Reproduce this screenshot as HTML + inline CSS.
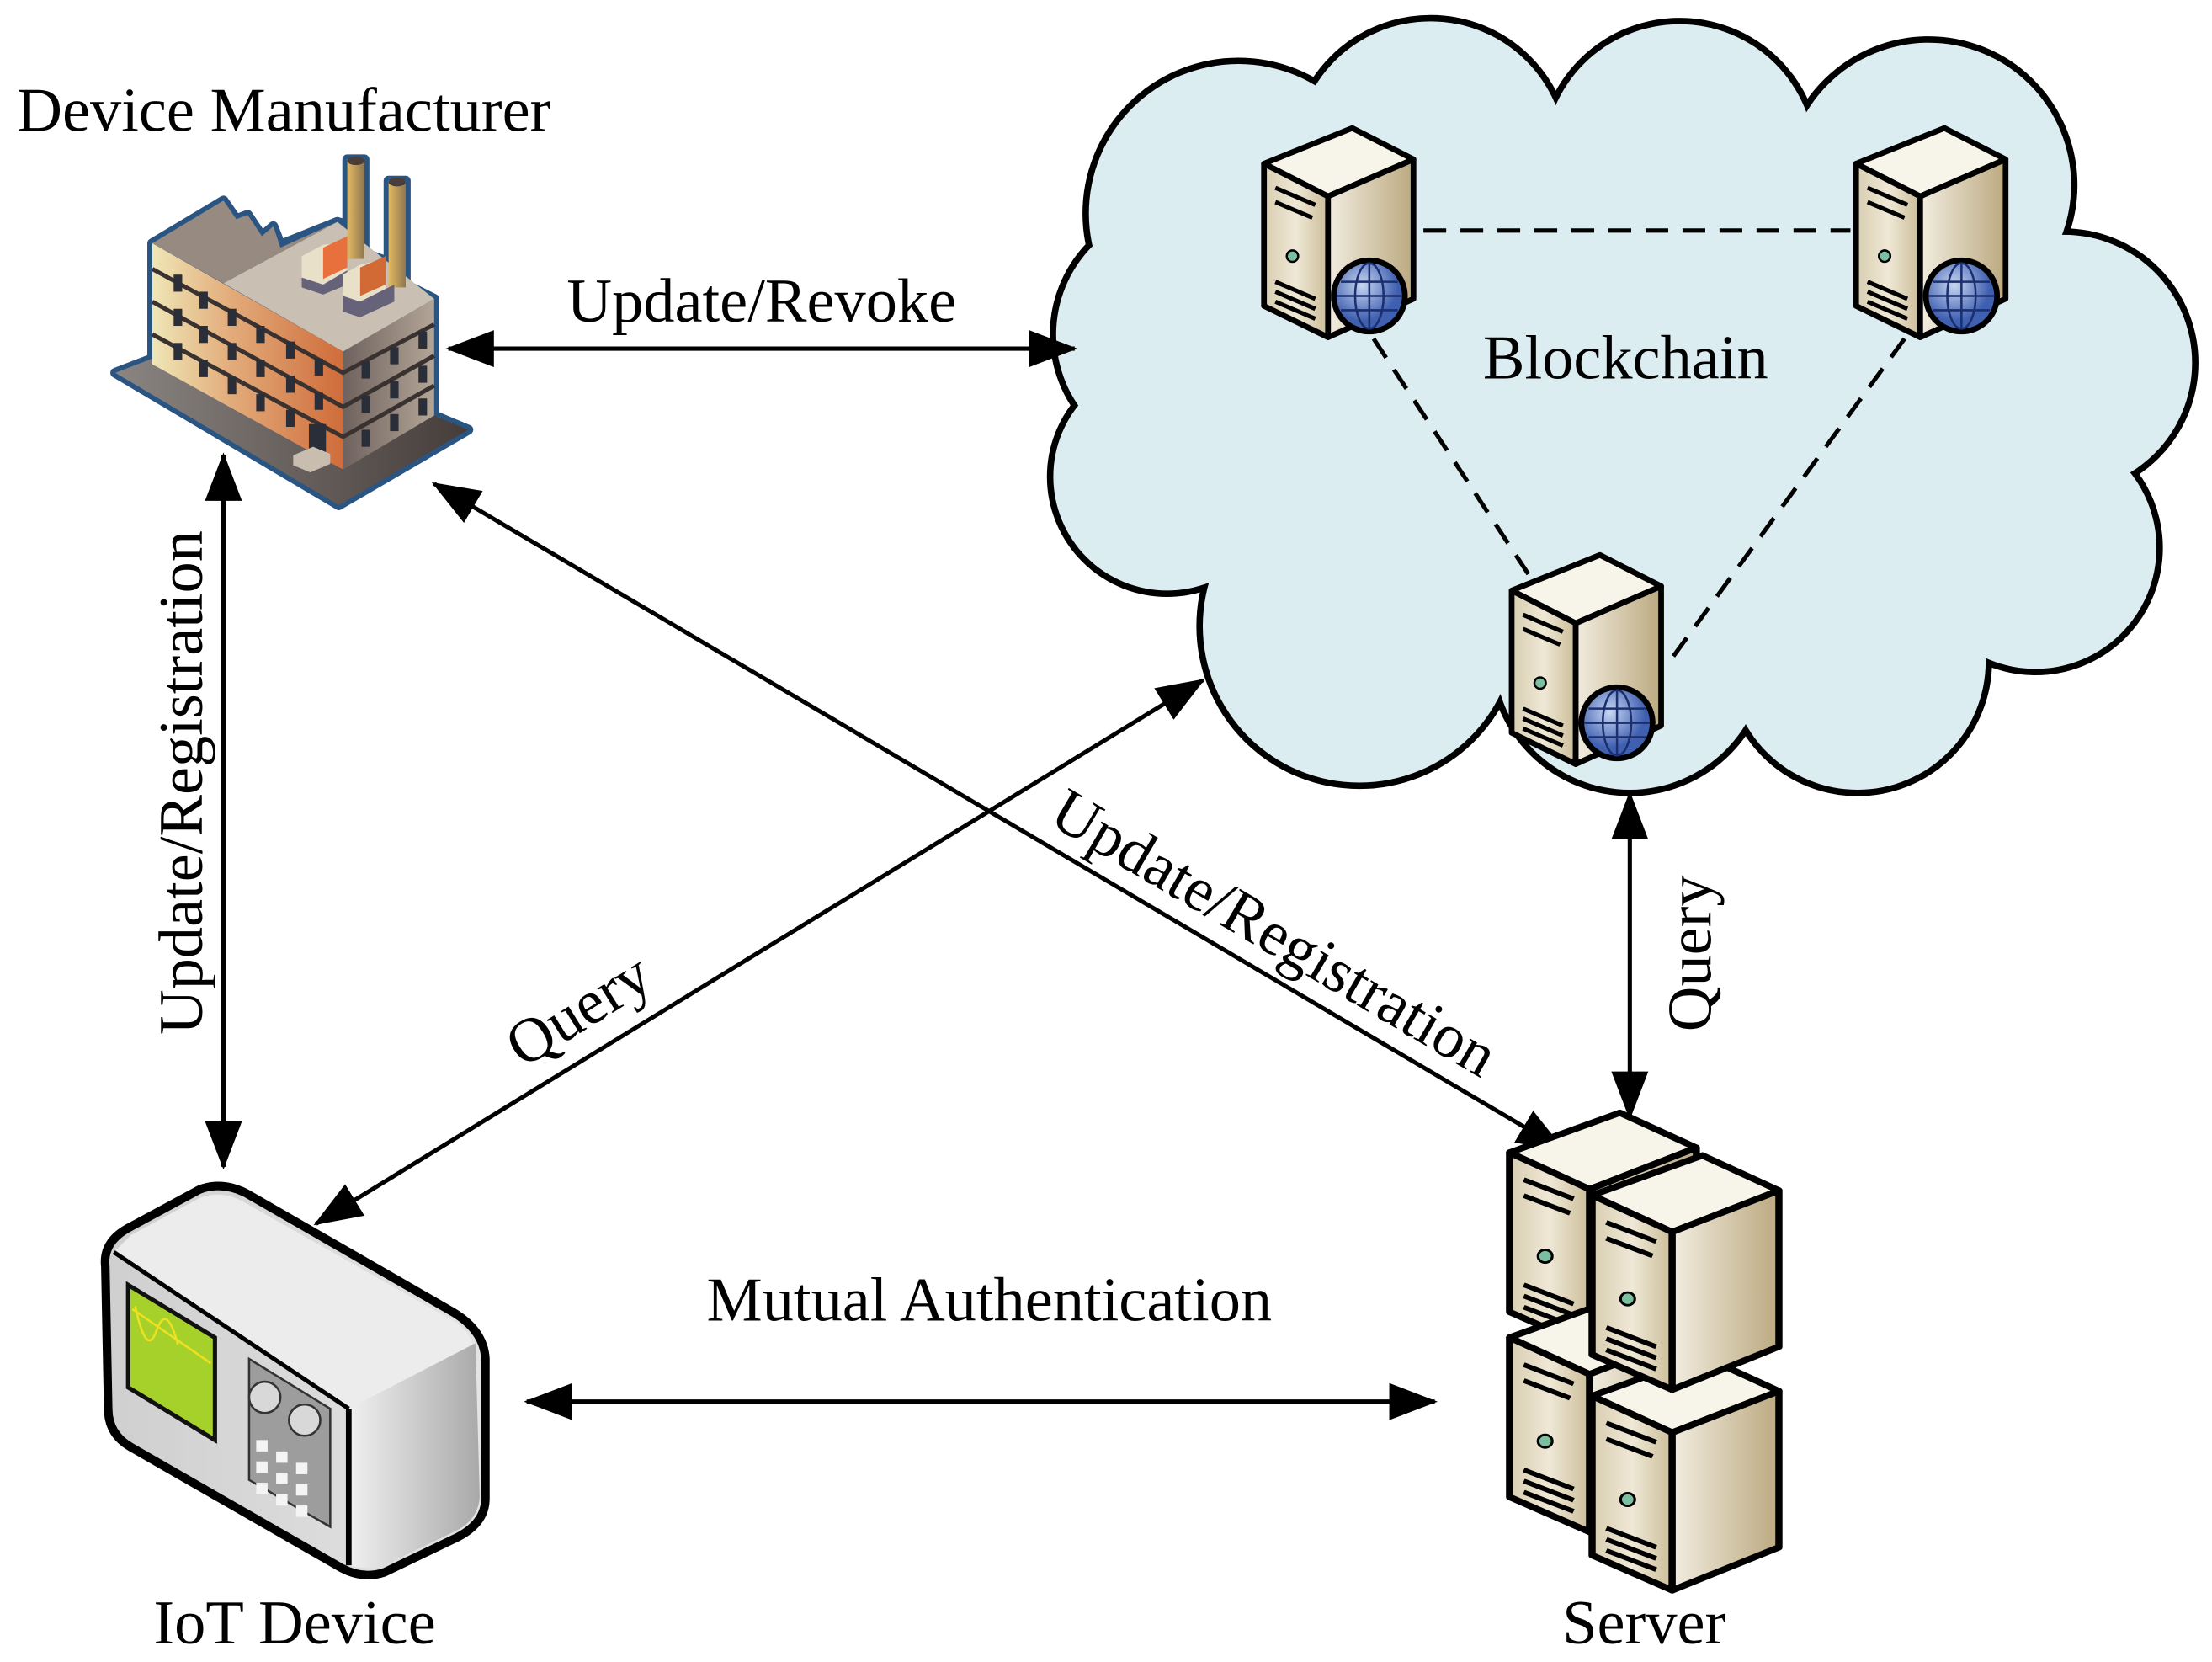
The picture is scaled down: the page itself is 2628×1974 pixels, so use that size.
<!DOCTYPE html>
<html><head><meta charset="utf-8"><style>html,body{margin:0;padding:0;background:#fff}svg{display:block}</style></head>
<body>
<svg width="2628" height="1974" viewBox="0 0 1554 1168" preserveAspectRatio="none" xmlns="http://www.w3.org/2000/svg" font-family="Liberation Serif, serif">
<defs>
<marker id="ah" markerUnits="userSpaceOnUse" markerWidth="34" markerHeight="26" refX="32" refY="13" orient="auto-start-reverse"><path d="M0,0 L34,13 L0,26 Z" fill="#000"/></marker>
<linearGradient id="sf" x1="0" x2="1"><stop offset="0" stop-color="#d8cdb0"/><stop offset="0.5" stop-color="#efe8d6"/><stop offset="1" stop-color="#cbbd98"/></linearGradient>
<linearGradient id="ss" x1="0" x2="1"><stop offset="0" stop-color="#f2ede0"/><stop offset="1" stop-color="#bba97f"/></linearGradient>
<radialGradient id="gl" cx="0.4" cy="0.35"><stop offset="0" stop-color="#c7d6f2"/><stop offset="1" stop-color="#3f5fb0"/></radialGradient>
<linearGradient id="fl" x1="0" x2="1"><stop offset="0" stop-color="#efe6b6"/><stop offset="0.4" stop-color="#e3ad7c"/><stop offset="1" stop-color="#cf6c3a"/></linearGradient>
<linearGradient id="fr" x1="0" x2="1"><stop offset="0" stop-color="#6f625e"/><stop offset="1" stop-color="#b3a596"/></linearGradient>
<linearGradient id="ch" x1="0" x2="1"><stop offset="0" stop-color="#e2b962"/><stop offset="1" stop-color="#8f7650"/></linearGradient>
<linearGradient id="base" x1="0" x2="1"><stop offset="0" stop-color="#8a8582"/><stop offset="1" stop-color="#463d3a"/></linearGradient>
<linearGradient id="ir" x1="0" x2="1"><stop offset="0" stop-color="#f0f0f0"/><stop offset="1" stop-color="#a9a9a9"/></linearGradient>
<linearGradient id="if" x1="0" x2="1"><stop offset="0" stop-color="#cfcfcf"/><stop offset="1" stop-color="#e4e4e4"/></linearGradient>
<g id="srv">
<path d="M2,25 L64,0 L107,22 L47,48 Z" fill="#f7f4ea" stroke="#000" stroke-width="4" stroke-linejoin="round"/>
<path d="M2,25 L47,48 L47,147 L2,125 Z" fill="url(#sf)" stroke="#000" stroke-width="4" stroke-linejoin="round"/>
<path d="M47,48 L107,22 L107,120 L47,147 Z" fill="url(#ss)" stroke="#000" stroke-width="4" stroke-linejoin="round"/>
<path d="M10,42 L38,54 M10,52 L36,63 M10,108 L38,120 M10,115 L38,127 M10,122 L38,134" stroke="#000" stroke-width="3"/>
<circle cx="22" cy="90" r="4" fill="#7ac0a0" stroke="#000" stroke-width="1.5"/>
</g>
<g id="glb"><circle r="25" fill="url(#gl)" stroke="#000" stroke-width="4"/><ellipse rx="10" ry="23" fill="none" stroke="#1c2f6e" stroke-width="1.5"/><path d="M-23,0 H23 M-20,-10 H20 M-20,10 H20 M0,-23 V23" stroke="#1c2f6e" stroke-width="1.5"/></g>
</defs>

<!-- cloud -->
<g stroke="#000" stroke-width="9" fill="#dcedf2">
<circle cx="870" cy="150" r="105"/><circle cx="1005" cy="110" r="95"/><circle cx="1180" cy="112" r="95"/><circle cx="1355" cy="130" r="100"/><circle cx="1450" cy="255" r="90"/><circle cx="1430" cy="385" r="85"/><circle cx="1305" cy="465" r="90"/><circle cx="1145" cy="460" r="95"/><circle cx="955" cy="440" r="110"/><circle cx="820" cy="335" r="80"/><circle cx="830" cy="235" r="88"/>
</g>
<g fill="#dcedf2">
<circle cx="870" cy="150" r="105"/><circle cx="1005" cy="110" r="95"/><circle cx="1180" cy="112" r="95"/><circle cx="1355" cy="130" r="100"/><circle cx="1450" cy="255" r="90"/><circle cx="1430" cy="385" r="85"/><circle cx="1305" cy="465" r="90"/><circle cx="1145" cy="460" r="95"/><circle cx="955" cy="440" r="110"/><circle cx="820" cy="335" r="80"/><circle cx="830" cy="235" r="88"/>
<ellipse cx="1140" cy="290" rx="330" ry="200"/>
</g>

<g stroke="#000" stroke-width="3" stroke-dasharray="16,10" fill="none">
<line x1="1000" y1="162" x2="1300" y2="162"/><line x1="965" y1="238" x2="1078" y2="410"/><line x1="1338" y1="238" x2="1175" y2="462"/>
</g>
<use href="#srv" x="886" y="90"/><use href="#glb" x="962" y="208"/>
<use href="#srv" x="1302" y="90"/><use href="#glb" x="1378" y="208"/>
<use href="#srv" x="1060" y="390"/><use href="#glb" x="1136" y="508"/>
<text x="1142" y="266" font-size="44" text-anchor="middle">Blockchain</text>

<g stroke="#000" stroke-width="3" fill="none" marker-start="url(#ah)" marker-end="url(#ah)">
<line x1="315" y1="245" x2="755" y2="245"/>
<line x1="157" y1="320" x2="157" y2="820"/>
<line x1="305" y1="340" x2="1098" y2="808"/>
<line x1="845" y1="478" x2="222" y2="860"/>
<line x1="1145" y1="558" x2="1145" y2="785"/>
<line x1="370" y1="985" x2="1008" y2="985"/>
</g>

<!-- factory -->
<path d="M81,262 L107,252 L107,171 L157,141 L166,154 L174,151 L184,166 L192,159 L197,172 L237,156 L244,158 L244,112 L256,112 L256,178 L273,184 L273,127 L285,127 L285,200 L305,210 L305,292 L329,302 L238,355 Z" fill="#2a5582" stroke="#2a5582" stroke-width="7" stroke-linejoin="round"/>
<path d="M81,262 L107,252 L241,330 L305,292 L329,302 L238,355 Z" fill="url(#base)"/>
<path d="M107,171 L157,141 L166,154 L174,151 L184,166 L192,159 L197,174 L237,156 L157,199 Z" fill="#978a80"/>
<path d="M107,171 L241,247 L241,330 L107,256 Z" fill="url(#fl)"/>
<path d="M241,247 L305,210 L305,292 L241,330 Z" fill="url(#fr)"/>
<path d="M157,199 L237,156 L305,210 L241,247 Z" fill="#c9bfb3"/>
<rect x="244" y="112" width="12" height="70" fill="url(#ch)"/><ellipse cx="250" cy="113" rx="6" ry="3" fill="#4a3e3a"/>
<rect x="273" y="127" width="12" height="75" fill="url(#ch)"/><ellipse cx="279" cy="128" rx="6" ry="3" fill="#4a3e3a"/>
<path d="M212,180 L227,172 L244,170 L244,190 L227,200 L212,195 Z" fill="#e8e0c8"/>
<path d="M227,174 L244,166 L244,188 L227,196 Z" fill="#e8703c"/>
<path d="M212,195 L227,200 L244,190 L244,200 L227,207 L212,202 Z" fill="#66627a"/>
<path d="M241,193 L253,186 L271,182 L271,203 L253,212 L241,208 Z" fill="#e8e0c8"/>
<path d="M253,188 L271,180 L271,200 L253,208 Z" fill="#d26a36"/>
<path d="M241,208 L253,212 L277,200 L277,212 L253,223 L241,219 Z" fill="#66627a"/>
<g stroke="#3a3230" stroke-width="3" fill="none"><path d="M107,189 L241,262 L305,228 M107,212 L241,286 L305,250 M107,235 L241,307 L305,271"/></g>
<g fill="#2a2e38">
<rect x="122" y="193" width="6" height="12"/><rect x="140" y="205" width="6" height="12"/><rect x="160" y="217" width="6" height="12"/><rect x="180" y="229" width="6" height="12"/><rect x="201" y="240" width="6" height="12"/><rect x="221" y="252" width="6" height="12"/>
<rect x="122" y="217" width="6" height="12"/><rect x="140" y="229" width="6" height="12"/><rect x="160" y="241" width="6" height="12"/><rect x="180" y="253" width="6" height="12"/><rect x="201" y="264" width="6" height="12"/><rect x="221" y="276" width="6" height="12"/>
<rect x="122" y="241" width="6" height="12"/><rect x="140" y="253" width="6" height="12"/><rect x="160" y="265" width="6" height="12"/><rect x="180" y="277" width="6" height="12"/><rect x="201" y="288" width="6" height="12"/><rect x="217" y="298" width="12" height="24"/>
<rect x="254" y="254" width="6" height="12"/><rect x="274" y="244" width="6" height="12"/><rect x="294" y="233" width="6" height="12"/>
<rect x="254" y="278" width="6" height="12"/><rect x="274" y="268" width="6" height="12"/><rect x="294" y="257" width="6" height="12"/>
<rect x="254" y="302" width="6" height="12"/><rect x="274" y="291" width="6" height="12"/><rect x="294" y="280" width="6" height="12"/>
</g>
<path d="M206,320 L220,314 L232,319 L232,326 L218,332 L206,327 Z" fill="#c9bdb0"/>

<!-- IoT device -->
<g stroke="#000" stroke-width="6" stroke-linejoin="round">
<path d="M74,890 Q72,872 92,862 L140,836 Q155,830 172,838 L318,922 Q340,935 341,955 L341,1053 Q341,1070 322,1080 L270,1105 Q255,1110 240,1102 L92,1017 Q76,1008 76,990 Z" fill="url(#if)"/>
</g>
<path d="M80,880 L92,868 L140,842 Q155,836 170,844 L318,928 Q330,935 332,945 L245,990 Z" fill="#ececec"/>
<path d="M245,990 L334,944 L337,1052 Q336,1068 320,1076 L270,1100 Q258,1104 245,1100 Z" fill="url(#ir)"/>
<path d="M245,990 L245,1100" stroke="#000" stroke-width="4"/>
<path d="M80,880 L245,990" stroke="#000" stroke-width="3"/>
<path d="M90,903 L151,940 L151,1012 L90,975 Z" fill="#a5d12a" stroke="#111" stroke-width="3"/>
<path d="M95,918 Q103,955 110,935 T125,945" stroke="#f0e020" stroke-width="1.5" fill="none"/>
<path d="M93,920 L148,958" stroke="#f0e020" stroke-width="1.5"/>
<path d="M175,955 L232,990 L232,1073 L175,1040 Z" fill="#9d9d9d" stroke="#333" stroke-width="1.5"/>
<circle cx="186" cy="982" r="11" fill="#d8d8d8" stroke="#333" stroke-width="1.5"/><circle cx="214" cy="998" r="11" fill="#d8d8d8" stroke="#333" stroke-width="1.5"/>
<g fill="#f4f4f4"><rect x="180" y="1012" width="8" height="8"/><rect x="194" y="1020" width="8" height="8"/><rect x="208" y="1028" width="8" height="8"/><rect x="180" y="1027" width="8" height="8"/><rect x="194" y="1035" width="8" height="8"/><rect x="208" y="1043" width="8" height="8"/><rect x="180" y="1042" width="8" height="8"/><rect x="194" y="1050" width="8" height="8"/><rect x="208" y="1058" width="8" height="8"/></g>

<!-- server stack -->
<g transform="translate(1058,782) scale(1.25,1.12)"><use href="#srv"/></g>
<g transform="translate(1058,912) scale(1.25,1.12)"><use href="#srv"/></g>
<g transform="translate(1116,953) scale(1.25,1.12)"><use href="#srv"/></g>
<g transform="translate(1116,812) scale(1.25,1.12)"><use href="#srv"/></g>

<g font-size="44" fill="#000">
<text x="12" y="92">Device Manufacturer</text>
<text x="535" y="226" text-anchor="middle">Update/Revoke</text>
<text transform="translate(142,550) rotate(-90)" text-anchor="middle">Update/Registration</text>
<text transform="translate(888,668) rotate(30.5)" text-anchor="middle">Update/Registration</text>
<text transform="translate(414,722) rotate(-32)" text-anchor="middle">Query</text>
<text transform="translate(1202,670) rotate(-90)" text-anchor="middle">Query</text>
<text x="695" y="928" text-anchor="middle">Mutual Authentication</text>
<text x="207" y="1155" text-anchor="middle">IoT Device</text>
<text x="1155" y="1155" text-anchor="middle">Server</text>
</g>
</svg>
</body></html>
